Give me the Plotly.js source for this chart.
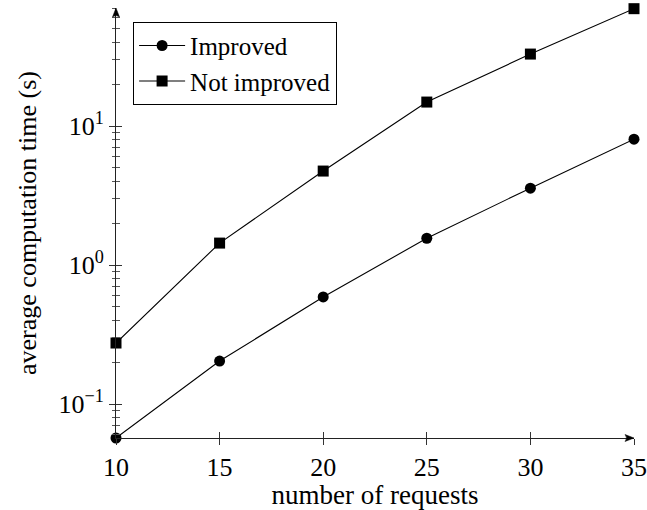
<!DOCTYPE html>
<html>
<head>
<meta charset="utf-8">
<script src="https://cdn.plot.ly/plotly-3.0.1.min.js"></script>
<style>html,body{margin:0;padding:0;background:#fff;}#chart{width:647px;height:510px;}</style>
</head>
<body>
<div id="chart"></div>
<script>
const requests = [10, 15, 20, 25, 30, 35];
const improved = [0.057, 0.204, 0.59, 1.56, 3.58, 8.05];
const notImproved = [0.275, 1.44, 4.75, 14.9, 33, 70];
const seriesNames = ['Improved', 'Not improved'];
const xTickVals = [10, 15, 20, 25, 30, 35];
const yTickVals = [0.1, 1, 10];
const yTickText = ['10<sup>−1</sup>', '10<sup>0</sup>', '10<sup>1</sup>'];

const FONT = 'Liberation Serif, Times New Roman, serif';
const yRange = [Math.log10(0.057), 1.85];
const xRange = [10, 35];

const traces = [
  {x: requests, y: improved, name: seriesNames[0], mode: 'lines+markers',
   line: {color: '#000', width: 1.1}, marker: {symbol: 'circle', size: 11, color: '#000'}, cliponaxis: false},
  {x: requests, y: notImproved, name: seriesNames[1], mode: 'lines+markers',
   line: {color: '#000', width: 1.1}, marker: {symbol: 'square', size: 11, color: '#000'}, cliponaxis: false},
  {x: requests, y: improved, xaxis: 'x2', yaxis: 'y2', mode: 'none', showlegend: false, hoverinfo: 'skip'}
];

const axisCommon = {showgrid: false, zeroline: false, tickcolor: '#333', linecolor: '#222', linewidth: 1, tickwidth: 1};

const layout = {
  width: 647, height: 510,
  margin: {l: 116, r: 13, t: 8, b: 72},
  paper_bgcolor: '#fff', plot_bgcolor: '#fff',
  font: {family: FONT, size: 26, color: '#000'},
  showlegend: true,
  legend: {x: 0.033, y: 0.968, xanchor: 'left', yanchor: 'top', bordercolor: '#000', borderwidth: 1,
    bgcolor: '#fff', font: {family: FONT, size: 25, color: '#000'}, itemwidth: 46, tracegroupgap: 0},
  xaxis: Object.assign({}, axisCommon, {
    range: xRange, tickvals: xTickVals, ticks: 'outside', ticklen: 6, showline: true,
    ticklabeloverflow: 'allow',
    title: {text: 'number of requests', font: {family: FONT, size: 27}, standoff: 6},
    tickfont: {family: FONT, size: 26}
  }),
  yaxis: Object.assign({}, axisCommon, {
    type: 'log', range: yRange, tickvals: yTickVals, ticktext: yTickText, ticks: 'outside', ticklen: 6, showline: true,
    minor: {ticks: 'outside', ticklen: 3.5, dtick: 'D1', tickcolor: '#555', showgrid: false},
    title: {text: 'average computation time (s)', font: {family: FONT, size: 26}, standoff: 14},
    tickfont: {family: FONT, size: 26}
  }),
  xaxis2: Object.assign({}, axisCommon, {
    range: xRange, tickvals: xTickVals, ticks: 'inside', ticklen: 6, showline: false,
    showticklabels: false, overlaying: 'x', anchor: 'y2', side: 'bottom'
  }),
  yaxis2: Object.assign({}, axisCommon, {
    type: 'log', range: yRange, tickvals: yTickVals, ticks: 'inside', ticklen: 6, showline: false,
    minor: {ticks: 'inside', ticklen: 3.5, dtick: 'D1', tickcolor: '#555', showgrid: false},
    showticklabels: false, overlaying: 'y', anchor: 'x2', side: 'left'
  }),
  shapes: [
    {type: 'path', xref: 'paper', yref: 'paper', xsizemode: 'pixel', ysizemode: 'pixel', xanchor: 1, yanchor: 0,
     path: 'M-9,3.5 L0,0 L-9,-3.5 Q-6,0 -9,3.5 Z', fillcolor: '#000', line: {color: '#000', width: 0.5}},
    {type: 'path', xref: 'paper', yref: 'paper', xsizemode: 'pixel', ysizemode: 'pixel', xanchor: 0, yanchor: 1,
     path: 'M-3.5,-9 L0,0 L3.5,-9 Q0,-6 -3.5,-9 Z', fillcolor: '#000', line: {color: '#000', width: 0.5}}
  ]
};

Plotly.newPlot('chart', traces, layout, {displayModeBar: false, staticPlot: true});
</script>
</body>
</html>
